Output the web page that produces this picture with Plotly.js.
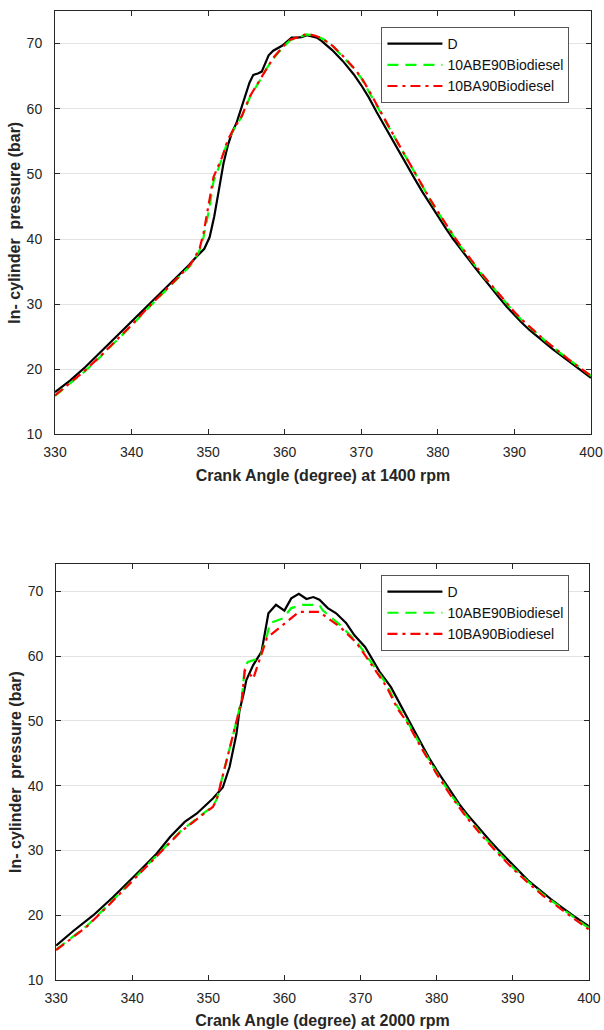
<!DOCTYPE html>
<html>
<head>
<meta charset="utf-8">
<script src="https://cdn.plot.ly/plotly-3.0.1.min.js"></script>
<style>
  html, body { margin: 0; padding: 0; background: #ffffff; }
  #chart { width: 604px; height: 1030px; }
</style>
</head>
<body>
<div id="chart"></div>
<script>
// ---------- Data: 1400 rpm (top panel) ----------
const seriesNames = ["D", "10ABE90Biodiesel", "10BA90Biodiesel"];

const top_D_angle = [330,332,334,336,338,340,342,344,346,347.5,348.5,349.5,350.2,350.8,351.4,352.0,352.6,353.1,353.7,354.3,354.8,355.4,355.9,356.5,357.0,357.5,357.9,358.5,359.2,359.7,360.3,360.9,361.6,362.2,362.9,363.5,364.2,364.8,366.2,367.6,369,370,371,372,373,374,375,376,377,378,379,380,381,382,383,384,385,386,387,388,389,390,391,392,393,394,395,396,397,398,399,400];
const top_D_p     = [16.5,18.3,20.4,22.7,25.0,27.3,29.6,32.0,34.3,36.0,37.3,38.5,40.3,43.5,47.5,51.6,54.5,56.3,57.8,60.0,61.9,64.0,65.2,65.4,65.7,67.2,68.2,68.9,69.4,69.7,70.3,70.9,70.9,71.0,71.3,71.1,70.9,70.4,69.0,67.3,65.3,63.6,61.7,59.5,57.4,55.3,53.2,51.2,49.2,47.2,45.3,43.5,41.7,40.0,38.4,36.9,35.4,33.9,32.4,31.0,29.6,28.3,27.1,26.0,25.0,24.0,23.1,22.2,21.3,20.4,19.5,18.7];

const top_ABE_angle = [330,332,334,336,338,340,342,344,346,347.5,348.1,348.9,349.4,350.2,350.7,351.8,352.6,353.3,354.4,355.5,356.8,357.6,358.5,359.6,360.7,361.8,362.9,364,365,366.3,367.6,369,370,371,372,373,374,375,376,377,378,379,380,381,382,383,384,385,386,387,388,389,390,391,392,393,394,395,396,397,398,399,400];
const top_ABE_p     = [15.9,17.8,19.8,22.0,24.3,26.7,29.2,31.6,33.9,35.7,36.6,38.3,40.3,45.0,48.8,52.3,55.2,56.7,58.8,61.9,64.4,66.1,67.7,69.2,70.5,71.0,71.4,71.2,70.7,69.6,68.0,66.2,64.7,62.7,60.5,58.4,56.3,54.2,52.1,50.0,48.0,46.0,44.1,42.2,40.5,38.8,37.2,35.7,34.2,32.8,31.4,30.0,28.7,27.5,26.4,25.4,24.4,23.4,22.5,21.6,20.7,19.8,19.0];

const top_BA_angle = [330,332,334,336,338,340,342,344,346,347.5,348.1,348.9,349.4,350.2,350.7,351.8,352.6,353.3,354.4,355.5,356.8,357.6,358.5,359.6,360.7,361.8,362.9,364,365,366.3,367.6,369,370,371,372,373,374,375,376,377,378,379,380,381,382,383,384,385,386,387,388,389,390,391,392,393,394,395,396,397,398,399,400];
const top_BA_p     = [16.0,17.9,19.9,22.1,24.4,26.8,29.3,31.7,34.0,35.8,36.8,38.6,40.9,46.0,49.5,52.5,55.3,56.8,58.9,62.0,64.5,66.2,67.8,69.3,70.6,71.0,71.5,71.2,70.7,69.6,68.1,66.3,64.8,62.8,60.6,58.5,56.4,54.3,52.2,50.1,48.1,46.1,44.2,42.3,40.6,38.9,37.3,35.8,34.3,32.9,31.5,30.1,28.8,27.6,26.5,25.4,24.4,23.5,22.5,21.6,20.7,19.8,19.0];

// ---------- Data: 2000 rpm (bottom panel) ----------
const bot_D_angle = [330,332.3,334.9,337.5,340.6,343.2,345.0,346.9,348.5,350.6,351.9,352.8,353.7,354.1,354.6,355.0,355.9,357.0,357.9,358.9,360.0,360.9,361.9,362.9,363.8,364.6,365.7,366.8,368.1,369.2,370.6,371.6,372.5,374,375,376,377,378,379,380,381,382,383,384,385,386,387,388,389,390,391,392,393,394,395,396,397,398,399,400];
const bot_D_p     = [15.3,17.6,20.0,22.8,26.4,29.5,32.1,34.4,35.7,38.0,39.7,42.9,48.0,51.6,54.0,56.3,58.6,60.7,66.6,67.9,67.0,68.9,69.6,68.8,69.1,68.7,67.4,66.6,65.1,63.2,61.4,59.4,57.6,55.2,53.1,50.8,48.6,46.4,44.3,42.4,40.6,38.8,37.1,35.6,34.2,32.8,31.5,30.2,29.0,27.7,26.5,25.4,24.4,23.4,22.5,21.6,20.7,19.9,19.1,18.3];

const bot_ABE_angle = [330,332,334,336.7,339.7,342.8,346.3,348.9,350.6,351.1,352.2,353.3,354.4,354.8,355.2,356.8,357.7,358.1,359.8,360.9,362.4,364.6,365.0,367.3,369.5,371.6,373.4,374.9,376,378,380,382,384,386,388,390,392,394,396,398,400];
const bot_ABE_p     = [14.7,16.5,18.3,21.4,25.0,28.8,32.9,35.3,36.8,37.9,42.9,48.0,53.4,58.4,59.1,59.7,63.1,65.1,65.8,67.4,67.9,67.9,67.1,64.8,62.2,58.6,55.7,52.1,50.2,46.0,42.0,38.4,35.2,32.4,29.8,27.4,25.2,23.2,21.4,19.7,18.0];

const bot_BA_angle = [330,332,334,336.7,339.7,342.8,346.3,348.9,350.6,351.1,352.2,353.3,354.4,354.8,355.4,355.9,356.8,357.7,359.5,361.9,364.6,367.3,369.5,371.6,373.4,374.9,376,378,380,382,384,386,388,390,392,394,396,398,400];
const bot_BA_p     = [14.6,16.4,18.2,21.3,24.9,28.7,32.8,35.2,36.7,37.8,42.9,48.0,53.2,57.8,57.3,56.5,59.5,62.8,64.5,66.8,66.8,64.5,62.0,58.4,55.3,51.8,50.0,45.8,41.8,38.2,35.0,32.2,29.6,27.2,25.0,23.0,21.2,19.5,17.8];

const xTickVals = [330,340,350,360,370,380,390,400];
const yTickVals = [10,20,30,40,50,60,70];
const xTitleTop = "Crank Angle (degree) at 1400 rpm";
const xTitleBot = "Crank Angle (degree) at 2000 rpm";
const yTitle = "In- cylinder  pressure (bar)";

// ---------- Styles ----------
const FONT = "Liberation Sans, Arial, Helvetica, sans-serif";
const AX = "#262626";
const lineD   = {color: "#000000", width: 2.2};
const lineABE = {color: "#00ff00", width: 2.2, dash: "11px,7px"};
const lineBA  = {color: "#ff0000", width: 2.2, dash: "10px,5px,3px,5px"};

function tr(x, y, name, line, xa, ya, leg, grp) {
  return {type: "scatter", mode: "lines", x: x, y: y, name: name, line: line,
          xaxis: xa, yaxis: ya, legend: leg, legendgroup: grp, hoverinfo: "skip"};
}

const data = [
  tr(top_D_angle,   top_D_p,   seriesNames[0], lineD,   "x",  "y",  "legend",  "a1"),
  tr(top_ABE_angle, top_ABE_p, seriesNames[1], lineABE, "x",  "y",  "legend",  "b1"),
  tr(top_BA_angle,  top_BA_p,  seriesNames[2], lineBA,  "x",  "y",  "legend",  "c1"),
  tr(bot_D_angle,   bot_D_p,   seriesNames[0], lineD,   "x2", "y2", "legend2", "a2"),
  tr(bot_ABE_angle, bot_ABE_p, seriesNames[1], lineABE, "x2", "y2", "legend2", "b2"),
  tr(bot_BA_angle,  bot_BA_p,  seriesNames[2], lineBA,  "x2", "y2", "legend2", "c2")
];

function xax(dom, anchor, title) {
  return {
    domain: dom, anchor: anchor, range: [330, 400], tickvals: xTickVals,
    ticks: "inside", ticklen: 5, tickwidth: 1, tickcolor: AX,
    showline: true, linecolor: AX, linewidth: 1, mirror: "ticks",
    showgrid: false, zeroline: false, ticklabelstandoff: 5,
    tickfont: {family: FONT, size: 14, color: AX},
    title: {text: title, font: {family: FONT, size: 16, color: AX, weight: "bold"}, standoff: 10}
  };
}
function yax(dom, anchor, rng) {
  return {
    domain: dom, anchor: anchor, range: rng, tickvals: yTickVals,
    ticks: "inside", ticklen: 5, tickwidth: 1, tickcolor: AX,
    showline: true, linecolor: AX, linewidth: 1, mirror: "ticks",
    showgrid: true, gridcolor: "#e3e3e3", gridwidth: 1, zeroline: false,
    ticklabelstandoff: 9,
    tickfont: {family: FONT, size: 14, color: AX},
    title: {text: yTitle, font: {family: FONT, size: 16, color: AX, weight: "bold"}, standoff: 2}
  };
}
function leg(y) {
  return {
    x: 0.609, y: y, xanchor: "left", yanchor: "top",
    bgcolor: "#ffffff", bordercolor: "#555555", borderwidth: 1,
    font: {family: FONT, size: 14, color: "#111111"},
    traceorder: "grouped", tracegroupgap: 0, itemwidth: 55
  };
}

const layout = {
  width: 604, height: 1030,
  margin: {l: 55, r: 13, t: 11, b: 50},
  paper_bgcolor: "#ffffff", plot_bgcolor: "#ffffff",
  showlegend: true,
  xaxis: xax([0, 1], "y", xTitleTop),
  yaxis: yax([0.563, 1], "x", [10, 75]),
  xaxis2: xax([0.002, 0.996], "y2", xTitleBot),
  yaxis2: yax([0, 0.4293], "x2", [10, 74.2]),
  legend: leg(0.9835),
  legend2: leg(0.418)
};

Plotly.newPlot("chart", data, layout, {staticPlot: true, displayModeBar: false});
</script>
</body>
</html>
